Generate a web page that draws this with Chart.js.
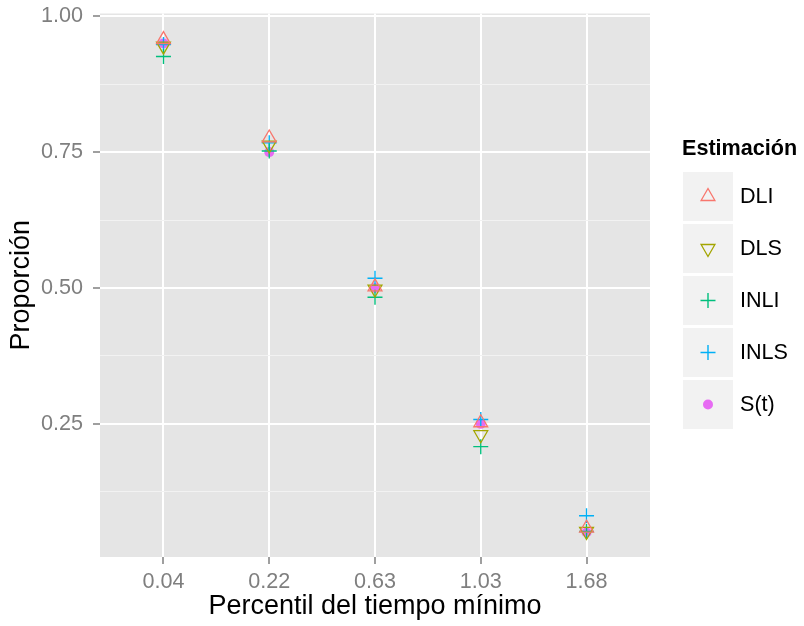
<!DOCTYPE html>
<html>
<head>
<meta charset="utf-8">
<script src="https://cdn.jsdelivr.net/npm/chart.js@4.4.1/dist/chart.umd.min.js"></script>
<style>
  html, body { margin: 0; padding: 0; background: #fff; }
  #wrap { width: 804px; height: 626px; }
</style>
</head>
<body>
<div id="wrap"><canvas id="chart" width="804" height="626"></canvas></div>
<script>
// data
const percentiles = ["0.04", "0.22", "0.63", "1.03", "1.68"];
const seriesNames = ["DLI", "DLS", "INLI", "INLS", "S(t)"];
const dli  = [0.957, 0.776, 0.502, 0.252, 0.058];
const dls  = [0.945, 0.763, 0.498, 0.230, 0.052];
const inli = [0.926, 0.752, 0.483, 0.208, 0.052];
const inls = [0.948, 0.767, 0.518, 0.258, 0.081];
const st   = [0.950, 0.750, 0.500, 0.250, 0.050];
const yMajor = [0.25, 0.50, 0.75, 1.00];
const yMinor = [0.125, 0.375, 0.625, 0.875];

// ggplot hue palette
const colors = ["#F8766D", "#A3A500", "#00BF7D", "#00B0F6", "#E76BF3"];
const shapes = [
    { pointStyle: 'triangle', rotation: 0,   radius: 8,   fill: false, lw: 1.3 },
    { pointStyle: 'triangle', rotation: 180, radius: 8,   fill: false, lw: 1.3 },
    { pointStyle: 'cross',    rotation: 0,   radius: 7.5, fill: false, lw: 1.4 },
    { pointStyle: 'cross',    rotation: 0,   radius: 7.5, fill: false, lw: 1.4 },
    { pointStyle: 'circle',   rotation: 0,   radius: 5,   fill: true,  lw: 0 }
];
const allSeries = [dli, dls, inli, inls, st];

const FONT = "'Liberation Sans', Arial, sans-serif";
const TXT = 21.6;

function toPoints(values) {
    return values.map((v, i) => ({ x: i, y: v }));
}

const datasets = allSeries.map((vals, k) => ({
    label: seriesNames[k],
    data: toPoints(vals),
    pointStyle: shapes[k].pointStyle,
    rotation: shapes[k].rotation,
    pointRadius: shapes[k].radius,
    pointHoverRadius: shapes[k].radius,
    borderColor: colors[k],
    backgroundColor: shapes[k].fill ? colors[k] : 'rgba(0,0,0,0)',
    borderWidth: shapes[k].lw,
    showLine: false
}));

// grey panel behind the grid
const panelBg = {
    id: 'panelBg',
    beforeDraw(chart) {
        const { ctx, chartArea: a } = chart;
        ctx.save();
        ctx.fillStyle = '#E5E5E5';
        ctx.fillRect(a.left, a.top, a.right - a.left, a.bottom - a.top);
        ctx.restore();
    }
};

function drawKey(ctx, k, x, y) {
    const s = shapes[k];
    ctx.save();
    ctx.strokeStyle = colors[k];
    ctx.fillStyle = colors[k];
    ctx.lineWidth = s.lw;
    ctx.beginPath();
    if (s.pointStyle === 'triangle') {
        const r = s.radius;
        const dir = s.rotation === 180 ? -1 : 1;
        ctx.moveTo(x, y - dir * r);
        ctx.lineTo(x + r * Math.sin(Math.PI / 3), y + dir * r * 0.5);
        ctx.lineTo(x - r * Math.sin(Math.PI / 3), y + dir * r * 0.5);
        ctx.closePath();
        ctx.stroke();
    } else if (s.pointStyle === 'cross') {
        const r = s.radius;
        ctx.moveTo(x - r, y); ctx.lineTo(x + r, y);
        ctx.moveTo(x, y - r); ctx.lineTo(x, y + r);
        ctx.stroke();
    } else {
        ctx.arc(x, y, s.radius, 0, Math.PI * 2);
        ctx.fill();
    }
    ctx.restore();
}

// ggplot style legend on the right
const sideLegend = {
    id: 'sideLegend',
    afterDraw(chart) {
        const ctx = chart.ctx;
        ctx.save();
        ctx.fillStyle = '#000';
        ctx.textBaseline = 'middle';
        ctx.textAlign = 'left';
        ctx.font = 'bold ' + TXT + 'px ' + FONT;
        ctx.fillText('Estimación', 682, 149);
        ctx.font = TXT + 'px ' + FONT;
        seriesNames.forEach((name, k) => {
            const top = 172 + 52 * k;
            ctx.fillStyle = '#F2F2F2';
            ctx.fillRect(683, top, 50, 49);
            drawKey(ctx, k, 708, top + 24.5);
            ctx.fillStyle = '#000';
            ctx.fillText(name, 740, top + 25);
        });
        ctx.restore();
    }
};

function noPad(scale) {
    scale.paddingTop = 0;
    scale.paddingBottom = 0;
    scale.paddingLeft = 0;
    scale.paddingRight = 0;
}

const chart = new Chart(document.getElementById('chart'), {
    type: 'scatter',
    data: { datasets },
    plugins: [panelBg, sideLegend],
    options: {
        responsive: false,
        animation: false,
        layout: { padding: { top: 13.5, right: 154, left: 0, bottom: 0 } },
        plugins: {
            legend: { display: false },
            tooltip: { enabled: false }
        },
        scales: {
            x: {
                type: 'linear',
                min: -0.6,
                max: 4.6,
                afterBuildTicks: (scale) => {
                    scale.ticks = percentiles.map((_, i) => ({ value: i }));
                },
                afterFit: (scale) => { scale.height = 69; noPad(scale); },
                border: { display: false },
                grid: {
                    color: '#FFFFFF',
                    lineWidth: 2,
                    tickColor: '#7F7F7F',
                    tickLength: 7,
                    tickWidth: 1.5
                },
                ticks: {
                    padding: 5,
                    color: '#7F7F7F',
                    font: { family: FONT, size: TXT },
                    maxRotation: 0,
                    autoSkip: false,
                    callback: (v) => percentiles[v]
                },
                title: {
                    display: true,
                    text: 'Percentil del tiempo mínimo',
                    color: '#000',
                    font: { family: FONT, size: 27 },
                    padding: { top: 0, bottom: 3 }
                }
            },
            y: {
                type: 'linear',
                min: 0.005,
                max: 1.005,
                afterBuildTicks: (scale) => {
                    scale.ticks = yMinor.concat(yMajor).sort((a, b) => a - b).map(v => ({ value: v }));
                },
                afterFit: (scale) => { scale.width = 100; noPad(scale); },
                border: { display: false },
                grid: {
                    color: (c) => yMajor.includes(c.tick.value) ? '#FFFFFF' : '#F2F2F2',
                    lineWidth: (c) => yMajor.includes(c.tick.value) ? 2 : 1,
                    tickColor: (c) => yMajor.includes(c.tick.value) ? '#7F7F7F' : 'rgba(0,0,0,0)',
                    tickLength: 7,
                    tickWidth: 1.5
                },
                ticks: {
                    padding: 10,
                    color: '#7F7F7F',
                    font: { family: FONT, size: TXT },
                    autoSkip: false,
                    callback: (v) => yMajor.includes(v) ? v.toFixed(2) : ''
                },
                title: {
                    display: true,
                    text: 'Proporción',
                    color: '#000',
                    font: { family: FONT, size: 27 },
                    padding: { top: 5, bottom: 0 }
                }
            }
        }
    }
});
</script>
</body>
</html>
